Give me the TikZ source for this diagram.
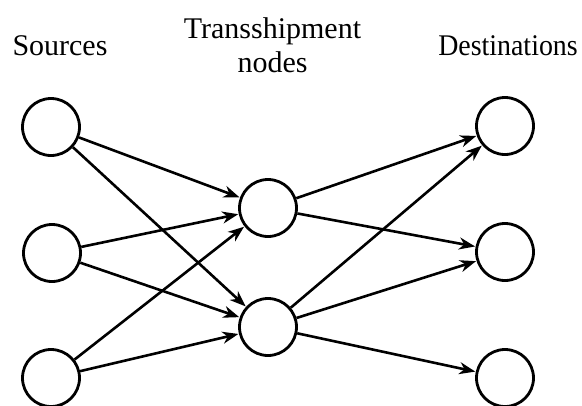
\documentclass[tikz,border=0pt]{standalone}
\usepackage{fontspec}
\setmainfont{Liberation Serif}
\usetikzlibrary{arrows.meta}
\begin{document}
\begin{tikzpicture}[x=1pt,y=1pt,
  vert/.style={circle,draw,line width=2.8pt,inner sep=0pt,minimum size=57pt},
  flow/.style={line width=2.6pt,-{Stealth[length=16pt,width=12pt,inset=5pt]},shorten >=0.5pt},
  lbl/.style={font=\fontsize{30}{34}\selectfont,anchor=base,align=center,inner sep=0pt}]
\useasboundingbox (0,0) rectangle (582,-405);
\node[lbl] (ls) at (60,-55) {Sources};
\node[lbl] (lt) at (272.5,-72) {Transshipment\\nodes};
\node[lbl,xscale=0.93] (ld) at (508,-55) {Destinations};
\node[vert] (s1) at (51,-127) {};
\node[vert] (s2) at (52,-253) {};
\node[vert] (s3) at (51,-378) {};
\node[vert] (t1) at (268,-208) {};
\node[vert] (t2) at (268,-327) {};
\node[vert] (d1) at (505,-126) {};
\node[vert] (d2) at (505,-252) {};
\node[vert] (d3) at (505,-378) {};
\foreach \s in {s1,s2,s3}{
  \foreach \t in {t1,t2}{
    \draw[flow] (\s) -- (\t);
  }
}
\draw[flow] (t1) -- (d1);
\draw[flow] (t1) -- (d2);
\draw[flow] (t2) -- (d1);
\draw[flow] (t2) -- (d2);
\draw[flow] (t2) -- (d3);
\end{tikzpicture}
\end{document}
